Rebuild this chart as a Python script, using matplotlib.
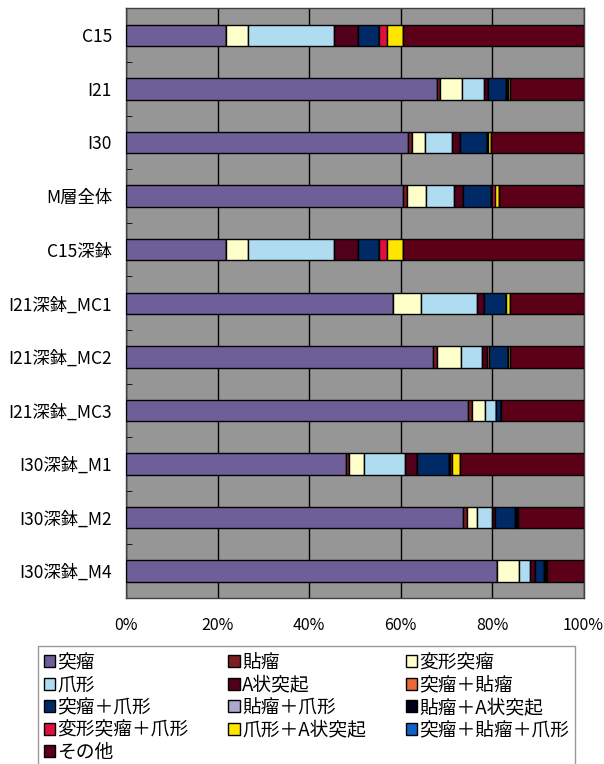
import matplotlib
matplotlib.use("Agg")
import matplotlib.pyplot as plt
import numpy as np
from matplotlib.ticker import FuncFormatter

plt.rcParams['font.family'] = ['Noto Sans CJK JP', 'DejaVu Sans']

categories = ["C15", "I21", "I30", "M層全体", "C15深鉢", "I21深鉢_MC1", "I21深鉢_MC2",
              "I21深鉢_MC3", "I30深鉢_M1", "I30深鉢_M2", "I30深鉢_M4"]

series_names = ["突瘤", "貼瘤", "変形突瘤", "爪形", "A状突起", "突瘤＋貼瘤", "突瘤＋爪形",
                "貼瘤＋爪形", "貼瘤＋A状突起", "変形突瘤＋爪形", "爪形＋A状突起",
                "突瘤＋貼瘤＋爪形", "その他"]

totsuryu      = [21.9, 67.9, 61.7, 60.6, 21.9, 58.3, 67.2, 74.7, 48.1, 73.6, 81.0]
haryu         = [0.0, 0.7, 0.9, 0.9, 0.0, 0.0, 0.7, 0.9, 0.7, 1.0, 0.0]
henkei        = [4.8, 4.8, 2.8, 4.1, 4.8, 6.1, 5.3, 2.8, 3.2, 2.2, 5.0]
tsumegata     = [18.8, 4.8, 5.9, 6.0, 18.8, 12.3, 4.6, 2.4, 9.0, 3.2, 2.3]
a_tokki       = [5.3, 0.9, 1.6, 2.0, 5.3, 1.5, 1.1, 0.0, 2.6, 0.7, 1.1]
tot_ha        = [0.0, 0.0, 0.0, 0.0, 0.0, 0.0, 0.4, 0.0, 0.0, 0.0, 0.0]
tot_tsume     = [4.6, 4.0, 5.9, 6.1, 4.6, 4.8, 4.3, 1.2, 6.9, 4.4, 1.9]
ha_tsume      = [0.0, 0.0, 0.0, 0.0, 0.0, 0.0, 0.0, 0.0, 0.0, 0.0, 0.0]
ha_a          = [0.0, 0.4, 0.3, 0.4, 0.0, 0.0, 0.0, 0.0, 0.3, 0.5, 0.4]
henkei_tsume  = [1.6, 0.0, 0.0, 0.5, 1.6, 0.0, 0.0, 0.0, 0.5, 0.0, 0.0]
tsume_a       = [3.6, 0.5, 0.7, 1.0, 3.6, 0.9, 0.3, 0.0, 1.8, 0.0, 0.0]
tot_ha_tsume  = [0.0, 0.0, 0.0, 0.0, 0.0, 0.0, 0.0, 0.0, 0.0, 0.0, 0.4]
sonota        = [39.4, 16.0, 20.2, 18.4, 39.4, 16.1, 16.1, 18.0, 26.9, 14.4, 7.9]

series_values = [totsuryu, haryu, henkei, tsumegata, a_tokki, tot_ha, tot_tsume,
                 ha_tsume, ha_a, henkei_tsume, tsume_a, tot_ha_tsume, sonota]

colors = ["#6f5f98", "#7b2020", "#ffffcc", "#b0dcf2", "#50001a", "#e8683c", "#002a66",
          "#aaa8cc", "#000018", "#e0103c", "#ffe600", "#1060c8", "#5c0018"]

fig = plt.figure(figsize=(6.04, 7.64), dpi=100)
ax = fig.add_axes([126 / 604, 1 - 598 / 764, 457.5 / 604, 589.5 / 764])
ax.set_facecolor("#969696")

y = np.arange(len(categories))
left = np.zeros(len(categories))
handles = []
for name, vals, c in zip(series_names, series_values, colors):
    vals = np.array(vals)
    h = ax.barh(y, vals, left=left, height=0.4, color=c, edgecolor="black",
                linewidth=1.0, label=name, zorder=3)
    handles.append(h)
    left += vals

ax.set_xlim(0, 100)
ax.set_ylim(len(categories) - 0.5, -0.5)
ax.set_xticks(np.arange(0, 101, 20))
ax.xaxis.set_major_formatter(FuncFormatter(lambda v, p: "%d%%" % v))
ax.set_yticks(y)
ax.set_yticklabels(categories, fontsize=12.5)
ax.set_yticks(np.arange(-0.5, len(categories), 1.0), minor=True)
ax.tick_params(axis="y", which="major", length=0, pad=10)
ax.tick_params(axis="y", which="minor", direction="in", length=4, color="black")
ax.tick_params(axis="x", which="major", direction="in", length=0, pad=14, labelsize=11.5)
ax.grid(axis="x", color="black", linewidth=1.0, zorder=1)
ax.set_axisbelow(True)
for s in ax.spines.values():
    s.set_color("#404040")
    s.set_linewidth(1.0)

# Excel-style legend, row-major order in 3 columns
order = [0, 3, 6, 9, 12, 1, 4, 7, 10, 2, 5, 8, 11]
leg = fig.legend([handles[i] for i in order], [series_names[i] for i in order],
                 ncol=3, loc="upper left",
                 bbox_to_anchor=(38 / 604, 1 - 647 / 764, 537 / 604, 0.001),
                 mode="expand", fontsize=13.5, frameon=True, fancybox=False,
                 handlelength=0.62, handleheight=0.62, handletextpad=0.12,
                 labelspacing=0.08, borderpad=0.3, borderaxespad=0.0)
leg.get_frame().set_edgecolor("#808080")
leg.get_frame().set_linewidth(1.0)

fig.savefig("out.png", dpi=100)
